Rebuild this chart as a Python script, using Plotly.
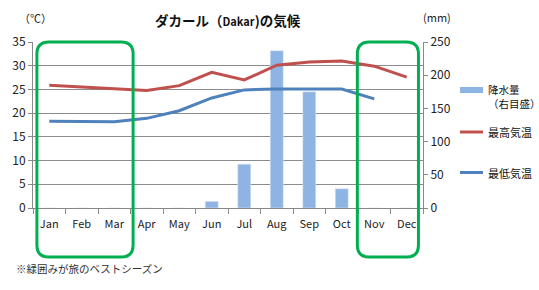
import plotly.graph_objects as go

months = ["Jan", "Feb", "Mar", "Apr", "May", "Jun", "Jul", "Aug", "Sep", "Oct", "Nov", "Dec"]
rain_mm = [0, 0, 0, 0, 0, 10, 66, 237, 175, 29, 0, 0]
tmax = [25.9, 25.5, 25.1, 24.8, 25.8, 28.6, 27.0, 30.1, 30.8, 31.0, 29.9, 27.6]
tmin = [18.3, 18.2, 18.2, 18.9, 20.5, 23.2, 24.9, 25.1, 25.1, 25.1, 23.0, None]
best_season_spans = [(-0.38, 2.58), (9.48, 11.36)]  # in month-index units

series_names = ["降水量", "最高気温", "最低気温"]
legend_labels = ["降水量<br>（右目盛）", "最高気温", "最低気温"]
series_colors = ["#8EB4E3", "#C0504D", "#4F81BD"]

FONT = "Noto Sans CJK JP, Noto Sans, sans-serif"
W, H = 539, 290
ML, MR, MT, MB = 33, 116, 42, 82
PW, PH = W - ML - MR, H - MT - MB


def px2paper(x, y):
    return (x - ML) / PW, (H - MB - y) / PH


xs = list(range(len(months)))

fig = go.Figure()
fig.add_trace(go.Bar(x=xs, y=rain_mm, name=series_names[0], marker_color=series_colors[0],
                     width=0.4, yaxis="y", showlegend=False))
fig.add_trace(go.Scatter(x=xs, y=tmax, name=series_names[1], mode="lines", yaxis="y2",
                         line=dict(color=series_colors[1], width=3), showlegend=False))
fig.add_trace(go.Scatter(x=xs, y=tmin, name=series_names[2], mode="lines", yaxis="y2",
                         line=dict(color=series_colors[2], width=3), showlegend=False,
                         connectgaps=False))

shapes = []
r = 12
for (a, b) in best_season_spans:
    x0 = (a + 0.5) / 12
    x1 = (b + 0.5) / 12
    y1 = 1.0
    y0 = -49.0 / PH
    dx = r / PW
    dy = r / PH
    path = (f"M {x0+dx},{y1} L {x1-dx},{y1} Q {x1},{y1} {x1},{y1-dy} "
            f"L {x1},{y0+dy} Q {x1},{y0} {x1-dx},{y0} L {x0+dx},{y0} "
            f"Q {x0},{y0} {x0},{y0+dy} L {x0},{y1-dy} Q {x0},{y1} {x0+dx},{y1} Z")
    shapes.append(dict(type="path", path=path, xref="paper", yref="paper",
                       line=dict(color="#00B050", width=3), layer="above"))

# manual legend
legend_rows = [90, 132, 172.5]
legend_text_rows = [96.5, 132, 172.5]
annotations = []
for i, (label, col, ly, ty_px) in enumerate(zip(legend_labels, series_colors, legend_rows, legend_text_rows)):
    xa, ya = px2paper(460, ly)
    xb, _ = px2paper(483, ly)
    if i == 0:
        _, yt = px2paper(0, ly - 3)
        _, yb = px2paper(0, ly + 3)
        shapes.append(dict(type="rect", xref="paper", yref="paper", x0=xa, x1=xb, y0=yb, y1=yt,
                           fillcolor=col, line=dict(width=0)))
    else:
        shapes.append(dict(type="line", xref="paper", yref="paper", x0=xa, x1=xb, y0=ya, y1=ya,
                           line=dict(color=col, width=3)))
    tx, ty = px2paper(486, ty_px)
    annotations.append(dict(text=label, x=tx, y=ty, xref="paper", yref="paper", showarrow=False,
                            xanchor="left", yanchor="middle", align="left",
                            font=dict(size=10.5 if i == 0 else 11, color="#111")))


def ann(text, x, y, size, anchor="center", color="#222"):
    px, py = px2paper(x, y)
    return dict(text=text, x=px, y=py, xref="paper", yref="paper", showarrow=False,
                xanchor=anchor, yanchor="middle", font=dict(size=size, color=color))


annotations += [
    ann("<b>ダカール（<span style='font-size:11px'>Dakar</span>)の気候</b>", 228, 20, 13.5, color="#111"),
    ann("（℃）", 17, 18, 11, anchor="left"),
    ann("(mm)", 437, 17, 11),
    ann("※緑囲みが旅のベストシーズン", 14, 268, 10.5, anchor="left", color="#333"),
]

fig.update_layout(
    width=W, height=H,
    margin=dict(l=ML, r=MR, t=MT, b=MB, autoexpand=False),
    paper_bgcolor="white", plot_bgcolor="white",
    font=dict(family=FONT, size=11, color="#222"),
    showlegend=False,
    xaxis=dict(range=[-0.5, 11.5], tickvals=xs, ticktext=months, showgrid=False,
               showline=True, linecolor="#888", ticks="", ticklabelstandoff=6,
               minor=dict(tickvals=[i - 0.5 for i in range(13)], ticks="outside", ticklen=5, tickcolor="#888"),
               tickfont=dict(size=11, color="#222")),
    yaxis=dict(range=[0, 250], dtick=50, side="right", showgrid=False, showline=True,
               linecolor="#888", ticks="outside", ticklen=4, tickcolor="#888",
               tickfont=dict(size=12, color="#222"), zeroline=False),
    yaxis2=dict(range=[0, 35], dtick=5, side="left", overlaying="y", showgrid=True,
                gridcolor="#8c8c8c", gridwidth=1, showline=True, linecolor="#888",
                ticks="outside", ticklen=4, tickcolor="#888",
                tickfont=dict(size=12, color="#222"), zeroline=False),
    shapes=shapes,
    annotations=annotations,
)

fig.write_html("out.html")
